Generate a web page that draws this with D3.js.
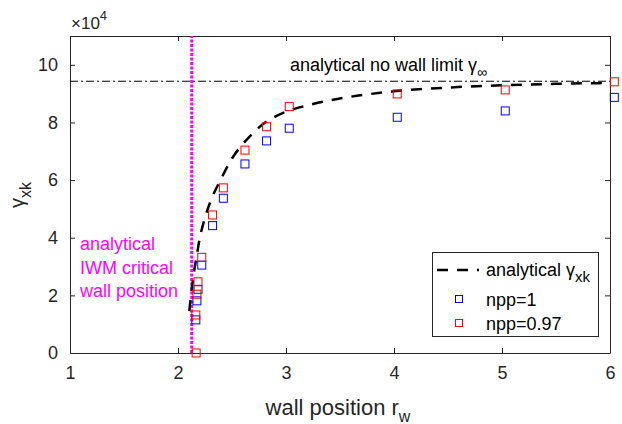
<html lang="en">
  <head>
    <title>gamma_xk vs wall position</title>
    <script src="https://d3js.org/d3.v7.min.js"></script>
    <style>
    body { margin: 0; background: white; }
    svg text { font-family: "Liberation Sans", Arial, sans-serif; fill: #262626; }
    </style>
  </head>
  <body>
    <svg id="chart" width="622" height="424"></svg>
    <script>
      // data (gamma in units of 1e4)
      var rwNpp1 = [2.165, 2.175, 2.185, 2.22, 2.32, 2.42, 2.62, 2.82, 3.03, 4.03, 5.03, 6.04];
      var gammaNpp1 = [1.15, 1.81, 2.21, 3.05, 4.42, 5.37, 6.56, 7.36, 7.80, 8.18, 8.40, 8.87];
      var rwNpp097 = [2.168, 2.165, 2.175, 2.185, 2.22, 2.32, 2.42, 2.62, 2.82, 3.03, 4.03, 5.03, 6.04];
      var gammaNpp097 = [0, 1.32, 2.04, 2.47, 3.32, 4.79, 5.73, 7.04, 7.85, 8.55, 8.99, 9.13, 9.41];
      var curveRw = [2.105, 2.13, 2.15, 2.17, 2.2, 2.25, 2.3, 2.4, 2.5, 2.6, 2.7, 2.8, 2.9, 3.0, 3.25, 3.5, 4.0, 4.5, 5.0, 5.5, 6.0];
      var curveGamma = [1.45, 2.3, 2.85, 3.3, 3.95, 4.7, 5.25, 6.05, 6.75, 7.25, 7.65, 7.98, 8.2, 8.37, 8.64, 8.83, 9.08, 9.21, 9.29, 9.34, 9.37];
      var gammaInf = 9.43;
      var rwCritical = 2.127;
      var xTicks = [1, 2, 3, 4, 5, 6];
      var yTicks = [0, 2, 4, 6, 8, 10];

      var pLeft = 70, pRight = 610, pTop = 36, pBottom = 353;
      var svg = d3.select("#chart");
      var x = d3.scaleLinear().domain([1, 6]).range([pLeft, pRight]);
      var y = d3.scaleLinear().domain([0, 11]).range([pBottom, pTop]);
      var axisColor = "#262626";
      var fmt = d3.format("d");

      // axes with inward ticks on all four sides
      svg.append("g").attr("transform", "translate(0," + pBottom + ")")
        .call(d3.axisBottom(x).tickValues(xTicks).tickFormat(fmt).tickSizeInner(-5).tickSizeOuter(0).tickPadding(13));
      svg.append("g").attr("transform", "translate(0," + pTop + ")")
        .call(d3.axisTop(x).tickValues(xTicks).tickSizeInner(-5).tickSizeOuter(0).tickFormat(""));
      svg.append("g").attr("transform", "translate(" + pLeft + ",0)")
        .call(d3.axisLeft(y).tickValues(yTicks).tickFormat(fmt).tickSizeInner(-5).tickSizeOuter(0).tickPadding(12));
      svg.append("g").attr("transform", "translate(" + pRight + ",0)")
        .call(d3.axisRight(y).tickValues(yTicks).tickSizeInner(-5).tickSizeOuter(0).tickFormat(""));
      svg.selectAll(".domain").attr("stroke", axisColor);
      svg.selectAll(".tick line").attr("stroke", axisColor);
      svg.selectAll(".tick text").attr("fill", axisColor)
        .style("font-size", "18px").style("font-family", "Liberation Sans, Arial, sans-serif");

      // gamma infinity line (dash-dot)
      svg.append("line")
        .attr("x1", x(1)).attr("x2", x(6))
        .attr("y1", y(gammaInf)).attr("y2", y(gammaInf))
        .attr("stroke", "black").attr("stroke-width", 1)
        .attr("stroke-dasharray", "8,3,2,3");

      // critical wall position (magenta dotted)
      svg.append("line")
        .attr("x1", x(rwCritical)).attr("x2", x(rwCritical))
        .attr("y1", y(0)).attr("y2", y(11))
        .attr("stroke", "#ff00ff").attr("stroke-width", 3)
        .attr("stroke-dasharray", "3,1.5");

      // analytical curve
      var line = d3.line().x(function(d) { return x(d[0]); }).y(function(d) { return y(d[1]); })
        .curve(d3.curveMonotoneX);
      svg.append("path")
        .datum(curveRw.map(function(r, i) { return [r, curveGamma[i]]; }))
        .attr("d", line)
        .attr("fill", "none").attr("stroke", "black").attr("stroke-width", 2.5)
        .attr("stroke-dasharray", "11,9");

      var ms = 8;
      function squares(xs, ys, color) {
        svg.append("g").selectAll("rect")
          .data(xs.map(function(r, i) { return [r, ys[i]]; }))
          .enter().append("rect")
          .attr("x", function(d) { return x(d[0]) - ms / 2; })
          .attr("y", function(d) { return y(d[1]) - ms / 2; })
          .attr("width", ms).attr("height", ms)
          .attr("fill", "none").attr("stroke", color).attr("stroke-width", 1);
      }
      squares(rwNpp1, gammaNpp1, "#0000ff");
      squares(rwNpp097, gammaNpp097, "#ff0000");

      // exponent label
      var ex = svg.append("text").attr("x", 71).attr("y", 29).style("font-size", "17px");
      ex.append("tspan").text("\u00d710");
      ex.append("tspan").attr("dy", -9).style("font-size", "13px").text("4");

      // gamma infinity annotation
      var ga = svg.append("text").attr("x", 290).attr("y", 71).style("font-size", "18px").style("fill", "black");
      ga.append("tspan").text("analytical no wall limit ");
      ga.append("tspan").text("\u03b3");
      ga.append("tspan").attr("dy", 6).style("font-size", "14px").text("\u221e");

      // magenta annotation
      var mt = svg.append("text").style("font-size", "18px").style("fill", "#ff00ff");
      ["analytical", "IWM critical", "wall position"].forEach(function(s, i) {
        mt.append("tspan").attr("x", 80).attr("y", 250 + i * 23.5).text(s);
      });

      // axis labels
      var xl = svg.append("text").attr("x", 338).attr("y", 415).attr("text-anchor", "middle").style("font-size", "22px");
      xl.append("tspan").text("wall position r");
      xl.append("tspan").attr("dy", 7).style("font-size", "16px").text("w");

      var yl = svg.append("text").attr("transform", "translate(24,195) rotate(-90)")
        .attr("text-anchor", "middle").style("font-size", "20px");
      yl.append("tspan").text("\u03b3");
      yl.append("tspan").attr("dy", 7).style("font-size", "16px").text("xk");

      // legend
      var lg = svg.append("g");
      lg.append("rect").attr("x", 432.5).attr("y", 252.5).attr("width", 166).attr("height", 84)
        .attr("fill", "white").attr("stroke", axisColor).attr("stroke-width", 1);
      lg.append("line").attr("x1", 437).attr("x2", 479).attr("y1", 270).attr("y2", 270)
        .attr("stroke", "black").attr("stroke-width", 2.5).attr("stroke-dasharray", "11,9");
      var l1 = lg.append("text").attr("x", 486).attr("y", 276).style("font-size", "18px").style("fill", "black");
      l1.append("tspan").text("analytical ");
      l1.append("tspan").text("\u03b3");
      l1.append("tspan").attr("dy", 6).style("font-size", "15px").text("xk");
      var entries = [["npp=1", "#0000ff", 299], ["npp=0.97", "#ff0000", 323]];
      entries.forEach(function(e) {
        lg.append("rect").attr("x", 459 - 3.5).attr("y", e[2] - 3.5).attr("width", 7).attr("height", 7)
          .attr("fill", "none").attr("stroke", e[1]).attr("stroke-width", 1);
        lg.append("text").attr("x", 486).attr("y", e[2] + 6.5).style("font-size", "18px").style("fill", "black").text(e[0]);
      });
    </script>
  </body>
</html>
